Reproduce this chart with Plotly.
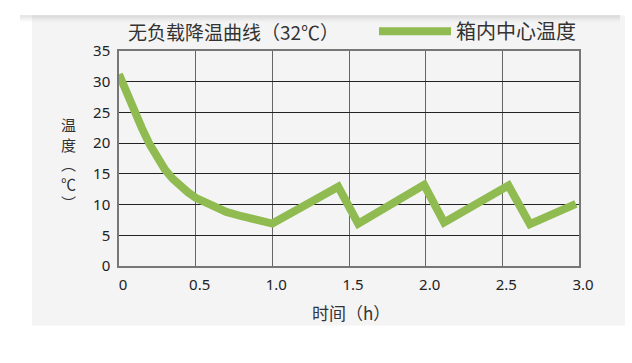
import plotly.graph_objects as go

# ---- data ----
time_h = [0, 0.05, 0.1, 0.15, 0.2, 0.25, 0.3, 0.35, 0.4, 0.45, 0.5,
          0.6, 0.7, 0.8, 0.9, 1.0,
          1.43, 1.56, 1.99, 2.12, 2.54, 2.68, 2.98]
temp_c = [31.2, 28.0, 25.3, 22.4, 19.8, 17.5, 15.7, 14.2, 13.0, 12.0, 11.1,
          9.8, 8.8, 8.1, 7.5, 6.9,
          12.9, 6.9, 13.2, 7.1, 13.1, 6.8, 10.1]
x_ticks = [0, 0.5, 1.0, 1.5, 2.0, 2.5, 3.0]
x_tick_labels = ["0", "0.5", "1.0", "1.5", "2.0", "2.5", "3.0"]
y_ticks = [0, 5, 10, 15, 20, 25, 30, 35]
series_name = "箱内中心温度"
title_text = "无负载降温曲线（32℃）"
x_title = "时间（h）"
y_title_chars = ["温", "度", "︵", "℃", "︶"]

W, H = 632, 363
ML, MR, MT, MB = 119, 53, 38, 97
PW, PH = W - ML - MR, H - MT - MB

def px_x(p):
    return (p - ML) / PW

def px_y(p):
    return 1 - (p - MT) / PH

CJK = "Noto Sans CJK SC, Noto Sans, sans-serif"
GREEN = "#8fbb50"
TXT = "#333333"

fig = go.Figure()
fig.add_trace(go.Scatter(
    x=time_h, y=temp_c, mode="lines", name=series_name,
    line=dict(color=GREEN, width=8),
    showlegend=True,
))

shapes = []
# light grey panel behind chart
shapes.append(dict(type="rect", xref="paper", yref="paper",
                   x0=px_x(32), x1=px_x(625), y0=px_y(329), y1=px_y(0),
                   fillcolor="#f4f4f5", line=dict(width=0), layer="below"))
# top shadow
for i in range(10):
    shapes.append(dict(type="rect", xref="paper", yref="paper",
                       x0=px_x(20), x1=px_x(620), y0=px_y(i + 1), y1=px_y(i),
                       fillcolor="rgba(0,0,0,%.3f)" % (0.12 * (1 - i / 10) ** 2),
                       line=dict(width=0), layer="below"))

annotations = [
    dict(text=title_text, xref="paper", yref="paper", x=px_x(233), y=px_y(17),
         xanchor="center", yanchor="middle", showarrow=False,
         font=dict(family=CJK, size=19, color=TXT)),
    dict(text=x_title, xref="paper", yref="paper", x=px_x(351), y=px_y(315),
         xanchor="center", yanchor="middle", showarrow=False,
         font=dict(family=CJK, size=17, color=TXT)),
]
# vertical y-axis title, one character per line (vertical-form brackets)
y_positions = [116, 137, 157, 178, 199]
for ch, yp in zip(y_title_chars, y_positions):
    annotations.append(dict(text=ch, xref="paper", yref="paper",
                            x=px_x(68), y=px_y(yp), xanchor="center",
                            yanchor="middle", showarrow=False,
                            borderpad=0,
                            font=dict(family="Noto Sans CJK SC, Noto Sans CJK JP", size=15, color=TXT)))

fig.update_layout(
    width=W, height=H,
    margin=dict(l=ML, r=MR, t=MT, b=MB, pad=0),
    paper_bgcolor="white",
    plot_bgcolor="#fdfdfd",
    shapes=shapes,
    annotations=annotations,
    legend=dict(orientation="h", x=px_x(374), y=px_y(17), xanchor="left",
                yanchor="middle", itemwidth=72,
                font=dict(family=CJK, size=20, color=TXT),
                bgcolor="rgba(0,0,0,0)"),
    xaxis=dict(range=[0, 3], tickvals=x_ticks, ticktext=x_tick_labels,
               showgrid=True, gridcolor="#666666", gridwidth=1.3,
               showline=True, linecolor="#777777", linewidth=1.5, mirror=True,
               zeroline=False, ticks="", ticklabelstandoff=4, ticklabelshift=4,
               tickfont=dict(family="Noto Sans, sans-serif", size=15, color="#222222"),
               fixedrange=True),
    yaxis=dict(range=[0, 35], tickvals=y_ticks,
               showgrid=True, gridcolor="#222222", gridwidth=1.2,
               showline=True, linecolor="#777777", linewidth=1.5, mirror=True,
               zeroline=False, ticks="", ticklabelstandoff=4,
               tickfont=dict(family="Noto Sans, sans-serif", size=15, color="#222222"),
               fixedrange=True),
)

fig.write_html("out.html")
